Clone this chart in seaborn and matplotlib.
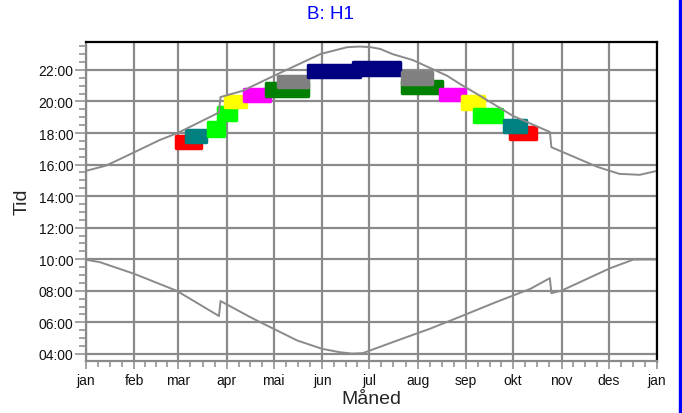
import numpy as np
import pandas as pd
import matplotlib
matplotlib.use("Agg")
import matplotlib.pyplot as plt
from matplotlib.patches import Rectangle
from matplotlib.ticker import FixedLocator, MultipleLocator, FuncFormatter
import seaborn as sns

# ---- data (day of year, hours) ----
upper_days = [0, 13, 30, 47, 59, 85, 86, 100, 120, 150, 167, 175, 182, 188, 196,
              209, 231, 239, 252, 273, 295, 296.5, 297.5, 327, 341, 354, 365]
upper_hours = [15.6, 15.94, 16.74, 17.55, 18.02, 19.3, 20.28, 20.67, 21.62, 23.01,
               23.44, 23.48, 23.44, 23.33, 23.0, 22.62, 21.62, 21.11, 20.35, 19.08,
               18.13, 18.07, 17.1, 15.85, 15.41, 15.35, 15.6]

lower_days = [0, 9, 31, 58, 85, 86, 105, 113, 135, 151, 162, 170, 177, 199, 220,
              241, 262, 284, 296.5, 297.5, 304, 335, 350, 365]
lower_hours = [9.97, 9.81, 9.07, 8.0, 6.4, 7.35, 6.33, 5.93, 4.85, 4.32, 4.11, 4.02,
               4.05, 4.85, 5.6, 6.43, 7.28, 8.12, 8.8, 7.85, 8.01, 9.43, 9.98, 9.98]

# colored windows: start day, end day, low hour, high hour, color
blob_start = [57.5, 63.9, 77.8, 84.2, 88.9, 101.0, 115.1, 122.7, 141.9, 170.7,
              202.0, 202.0, 226.3, 240.3, 248.0, 271.0, 267.2]
blob_end = [73.5, 76.7, 88.0, 95.9, 102.3, 117.6, 141.9, 141.9, 175.1, 200.7,
            227.6, 221.2, 242.3, 254.4, 265.9, 287.6, 281.3]
blob_low = [17.04, 17.46, 17.84, 18.83, 19.66, 20.04, 20.35, 20.92, 21.56, 21.68,
            20.54, 21.11, 20.10, 19.53, 18.70, 17.63, 18.07]
blob_high = [17.84, 18.20, 18.69, 19.64, 20.35, 20.80, 21.18, 21.62, 22.32, 22.51,
             21.30, 21.87, 20.80, 20.35, 19.53, 18.39, 18.83]
blob_color = ["#ff0000", "#008080", "#00ff00", "#00ff00", "#ffff00", "#ff00ff",
              "#008000", "#808080", "#000080", "#000080",
              "#008000", "#808080", "#ff00ff", "#ffff00", "#00ff00", "#ff0000", "#008080"]

month_days = [0, 31, 59, 90, 120, 151, 181, 212, 243, 273, 304, 334, 365]
month_labels = ["jan", "feb", "mar", "apr", "mai", "jun", "jul", "aug", "sep",
                "okt", "nov", "des", "jan"]
hour_ticks = [4, 6, 8, 10, 12, 14, 16, 18, 20, 22]

title = "B: H1"
xlabel = "Måned"
ylabel = "Tid"

# ---- style ----
sns.set_style("white")
plt.rcParams["font.family"] = ["Liberation Sans", "DejaVu Sans"]

fig = plt.figure(figsize=(6.82, 4.14), dpi=100)
ax = fig.add_axes([86 / 682, 1 - 362 / 414, (657 - 86) / 682, (362 - 42.5) / 414])

gray = "#8a8a8a"

for s, e, lo, hi, c in zip(blob_start, blob_end, blob_low, blob_high, blob_color):
    ax.fill_between([s, e], [lo, lo], [hi, hi], color=c, edgecolor=c,
                    linewidth=2.5, joinstyle="round", zorder=1.8)

df_up = pd.DataFrame({"day": upper_days, "hour": upper_hours})
df_lo = pd.DataFrame({"day": lower_days, "hour": lower_hours})
sns.lineplot(data=df_up, x="day", y="hour", ax=ax, color=gray, lw=1.4,
             estimator=None, sort=False, zorder=2)
sns.lineplot(data=df_lo, x="day", y="hour", ax=ax, color=gray, lw=1.4,
             estimator=None, sort=False, zorder=2)

ax.set_xlim(0, 365)
ax.set_ylim(3.55, 23.8)

ax.xaxis.set_major_locator(FixedLocator(month_days))
ax.set_xticklabels(month_labels)
minor_x = []
for a, b in zip(month_days[:-1], month_days[1:]):
    minor_x += [a + (b - a) * k / 4 for k in (1, 2, 3)]
ax.xaxis.set_minor_locator(FixedLocator(minor_x))

ax.yaxis.set_major_locator(FixedLocator(hour_ticks))
ax.yaxis.set_major_formatter(FuncFormatter(lambda v, p: f"{int(round(v)):02d}:00"))
ax.yaxis.set_minor_locator(MultipleLocator(0.5))

ax.set_axisbelow("line")
ax.grid(True, which="major", color=gray, lw=1.6)

ax.tick_params(axis="both", which="both", direction="out", colors=gray,
               labelcolor="#111111", labelsize=10, width=1.1)
ax.tick_params(axis="y", which="major", length=8, pad=1, left=True)
ax.tick_params(axis="y", which="minor", length=5, left=True)
ax.tick_params(axis="x", which="major", length=6, pad=3, bottom=True)
ax.tick_params(axis="x", which="minor", length=4, bottom=True)

for side in ("top", "right"):
    ax.spines[side].set_color("black")
    ax.spines[side].set_linewidth(1.6)
for side in ("left", "bottom"):
    ax.spines[side].set_color(gray)
    ax.spines[side].set_linewidth(1.6)

ax.set_xlabel(xlabel, fontsize=14, labelpad=2)
ax.set_ylabel(ylabel, fontsize=14, labelpad=6)

fig.text(330 / 682, 1 - 14.5 / 414, title, color="#0000ff", ha="center",
         va="center", fontsize=13.5)
fig.add_artist(Rectangle((679 / 682, 0), 3 / 682, 1, transform=fig.transFigure,
                         color="#0000ff"))

fig.savefig("out.png", dpi=100)
